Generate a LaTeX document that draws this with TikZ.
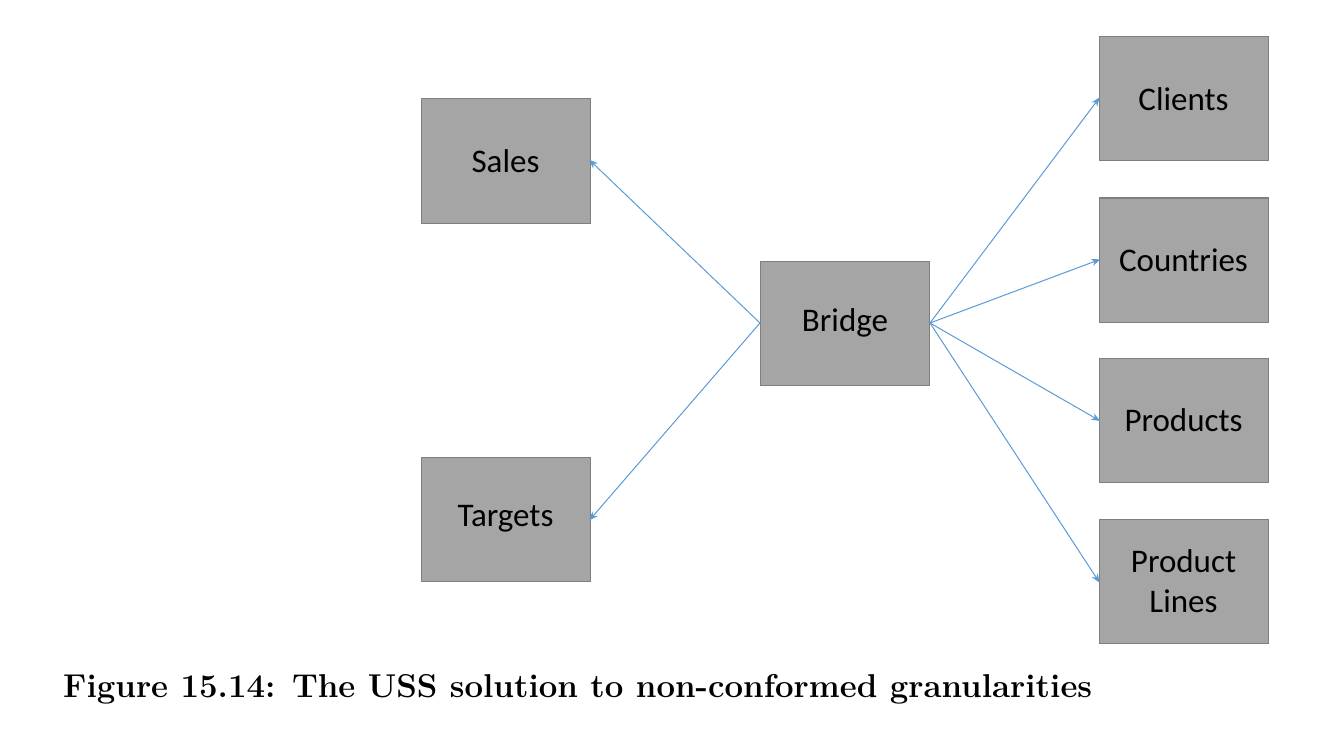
\documentclass[tikz,border=0pt]{standalone}
\usepackage{fontspec}
\setsansfont{Carlito}
\usetikzlibrary{arrows.meta}
\definecolor{boxgray}{HTML}{A5A5A5}
\definecolor{boxline}{HTML}{7F7F7F}
\definecolor{linkblue}{HTML}{5B9BD5}
\tikzset{
  table/.style={draw=boxline, fill=boxgray, line width=1pt, minimum width=169pt, minimum height=124pt,
    inner sep=0pt, align=center, font=\sffamily\fontsize{33}{40}\selectfont},
  link/.style={draw=linkblue, line width=1pt, -{Stealth[length=9pt,width=7pt]}, shorten >=-2pt}
}
\begin{document}
\begin{tikzpicture}[x=1pt,y=-1pt]
			\useasboundingbox (0,0) rectangle (1342,749);
			\def\dx{1183.5} % column of the dimension tables
			% fact tables and bridge
			\node[table] (sales) at (505.5,161) {Sales};
			\node[table] (targets) at (505.5,519) {Targets};
			\node[table] (bridge) at (845,323) {Bridge};
			% dimension tables
			\node[table] (clients) at (\dx,99) {Clients};
			\node[table] (countries) at (\dx,260) {Countries};
			\node[table] (products) at (\dx,420) {Products};
			\node[table] (lines) at (\dx,581) {Product\\Lines};
			\draw[link] (bridge.west) -- (sales.east);
			\draw[link] (bridge.west) -- (targets.east);
			\foreach \d in {clients,countries,products,lines} {
				\draw[link] (bridge.east) -- (\d.west);
			}
			\node[anchor=base west, inner sep=0pt, font=\bfseries\fontsize{33}{38}\selectfont] (caption) at (63,697) {Figure 15.14: The USS solution to non-conformed granularities};
\end{tikzpicture}
\end{document}
